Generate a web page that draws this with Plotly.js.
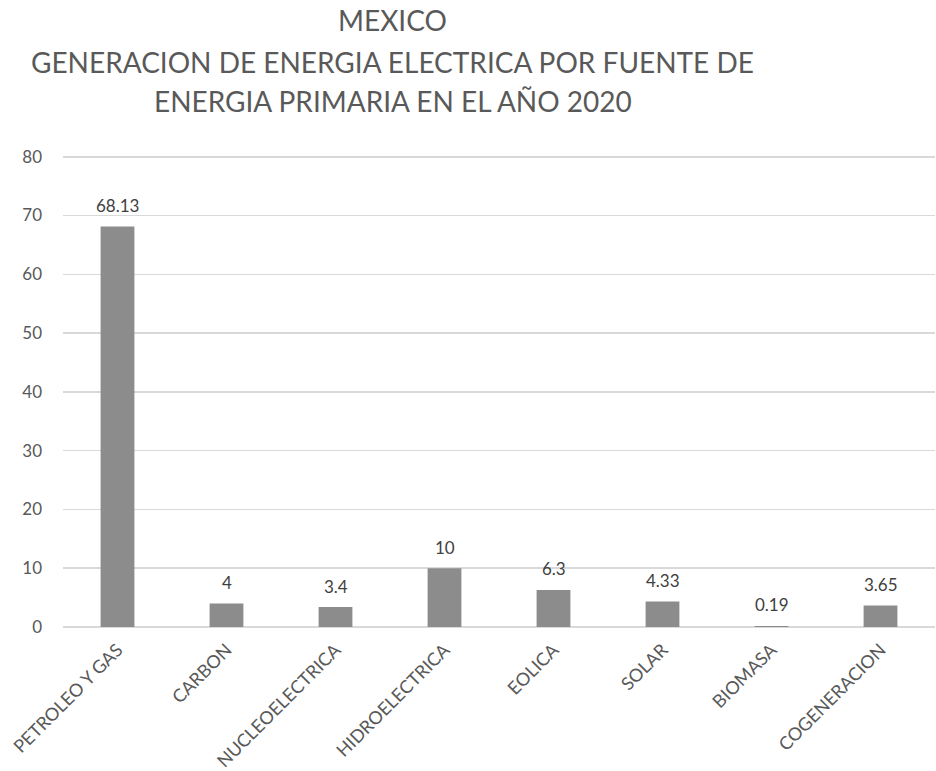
<!DOCTYPE html>
<html>
<head>
<meta charset="utf-8">
<script src="https://cdn.plot.ly/plotly-3.0.1.min.js"></script>
<style>html,body{margin:0;padding:0;background:#fff;}#chart{width:936px;height:771px;}</style>
</head>
<body>
<div id="chart"></div>
<script>
const categories = ["PETROLEO Y GAS", "CARBON", "NUCLEOELECTRICA", "HIDROELECTRICA", "EOLICA", "SOLAR", "BIOMASA", "COGENERACION"];
const values = [68.13, 4, 3.4, 10, 6.3, 4.33, 0.19, 3.65];
const valueLabels = ["68.13", "4", "3.4", "10", "6.3", "4.33", "0.19", "3.65"];
const titleLines = ["MEXICO", "GENERACION DE ENERGIA ELECTRICA POR FUENTE DE", "ENERGIA PRIMARIA EN EL AÑO 2020"];
const yTicks = [0, 10, 20, 30, 40, 50, 60, 70, 80];

const FONT = "Lato, 'Open Sans', sans-serif";
const trace = {
  type: "bar",
  x: categories,
  y: values,
  marker: {color: "#8c8c8c"},
  hoverinfo: "x+y"
};
const titleY = [1.286, 1.198, 1.115];
const annotations = titleLines.map((t, i) => ({
  text: t, xref: "paper", yref: "paper", x: 0.378, y: titleY[i],
  xanchor: "center", yanchor: "middle", showarrow: false,
  font: {family: FONT, size: 28, color: "#595959"}
}));
categories.forEach((c, i) => {
  annotations.push({
    text: valueLabels[i], xref: "x", yref: "y", x: c, y: values[i],
    xanchor: "center", yanchor: "middle", yshift: 21, showarrow: false,
    font: {family: FONT, size: 17, color: "#404040"}
  });
});
const layout = {
  width: 936, height: 771,
  margin: {l: 63, r: 1, t: 155, b: 144},
  paper_bgcolor: "#ffffff", plot_bgcolor: "#ffffff",
  showlegend: false,
  bargap: 0.69,
  annotations: annotations,
  xaxis: {
    type: "category", tickangle: -45, showgrid: false, showline: false, zeroline: false,
    ticks: "", ticklabelstandoff: 8, tickfont: {family: FONT, size: 18, color: "#595959"}
  },
  yaxis: {
    range: [0, 80.3], tickvals: yTicks, ticktext: yTicks.map(String),
    showgrid: true, gridcolor: "#d9d9d9", gridwidth: 1.5,
    zeroline: true, zerolinecolor: "#d9d9d9", zerolinewidth: 1.5, showline: false,
    ticks: "", ticklabelstandoff: 20,
    tickfont: {family: FONT, size: 17, color: "#595959"}
  }
};
Plotly.newPlot("chart", [trace], layout, {displayModeBar: false, staticPlot: true});
</script>
</body>
</html>
